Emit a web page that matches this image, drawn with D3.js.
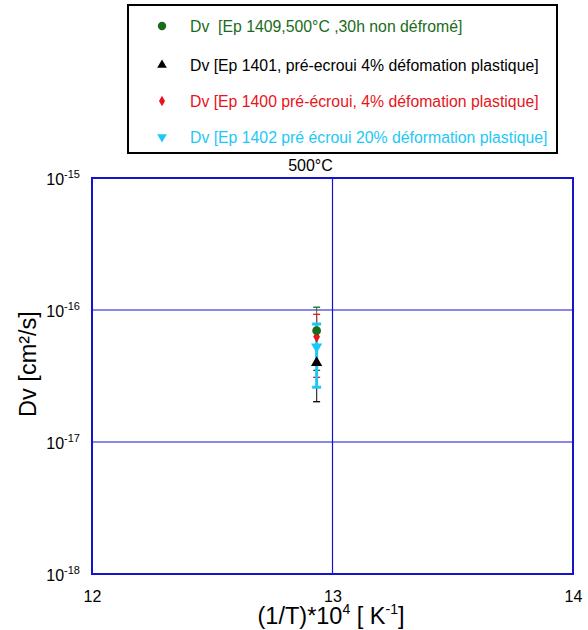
<!DOCTYPE html>
<html><head><meta charset="utf-8">
<script src="https://cdn.jsdelivr.net/npm/d3@7"></script>
<style>body{margin:0;background:#fff}svg{font-family:Arial,"Liberation Sans",sans-serif}</style>
</head><body><svg id="c" width="588" height="630"></svg>
<script>
const seriesNames = ["Dv  [Ep 1409,500°C ,30h non défromé]","Dv [Ep 1401, pré-ecroui 4% défomation plastique]","Dv [Ep 1400 pré-écroui, 4% défomation plastique]","Dv [Ep 1402 pré écroui 20% déformation plastique]"];
const seriesColors = ["#1a6b1a","#000000","#e8141a","#1ec8f5"];
const seriesSymbols = ["circle","triangle","diamond","triangleDown"];
const xValues = [12.934, 12.934, 12.934, 12.934];
const dvValues = [6.97e-17, 3.99e-17, 6.28e-17, 5.27e-17];
const errLow = [3.49e-17, 2.02e-17, 3.09e-17, 2.6e-17];
const errHigh = [1.05e-16, 7.83e-17, 9.28e-17, 7.83e-17];
const xTicks = [12, 13, 14];
const yTicks = [1e-18, 1e-17, 1e-16, 1e-15];

const svg = d3.select("#c");
const L=92,R=573,T=178,B=574;
const x = d3.scaleLinear().domain([12,14]).range([L,R]);
const y = d3.scaleLog().domain([1e-18,1e-15]).range([B,T]);
const blue="#1414cc";

// grid
svg.append("g").selectAll("line").data(xTicks.slice(1,-1)).join("line")
 .attr("x1",d=>x(d)).attr("x2",d=>x(d)).attr("y1",T).attr("y2",B).attr("stroke",blue).attr("stroke-width",1.2);
svg.append("g").selectAll("line").data(yTicks.slice(1,-1)).join("line")
 .attr("x1",L).attr("x2",R).attr("y1",d=>y(d)).attr("y2",d=>y(d)).attr("stroke",blue).attr("stroke-width",1.2);
svg.append("rect").attr("x",L).attr("y",T).attr("width",R-L).attr("height",B-T).attr("fill","none").attr("stroke",blue).attr("stroke-width",2);

// axes
const xa = svg.append("g").attr("transform",`translate(0,${B})`).call(d3.axisBottom(x).tickValues(xTicks).tickSize(0).tickFormat(""));
xa.select(".domain").remove();
xa.selectAll(".tick").append("text").attr("y",28).attr("text-anchor","middle").attr("fill","#000").attr("font-size",16).text(d=>d3.format("d")(d));

const ya = svg.append("g").attr("transform",`translate(${L},0)`).call(d3.axisLeft(y).tickValues(yTicks).tickSize(0).tickFormat(""));
ya.select(".domain").remove();
ya.selectAll(".tick").each(function(d){
  const e = Math.round(Math.log10(d));
  const t = d3.select(this).append("text").attr("x",-12).attr("y",6).attr("text-anchor","end").attr("fill","#000").attr("font-size",16);
  t.append("tspan").text("10");
  t.append("tspan").attr("dy",-7).attr("font-size",11).text("-"+Math.abs(e));
});

// labels
svg.append("text").attr("x",310.5).attr("y",171).attr("text-anchor","middle").attr("font-size",16).text("500°C");
svg.append("text").attr("transform","translate(36,364) rotate(-90)").attr("text-anchor","middle").attr("font-size",23.5).text("Dv [cm²/s]");
const xl = svg.append("text").attr("x",331).attr("y",624).attr("text-anchor","middle").attr("font-size",23.5);
xl.append("tspan").text("(1/T)*10");
xl.append("tspan").attr("dy",-10).attr("font-size",14).text("4");
xl.append("tspan").attr("dy",10).text(" [ K");
xl.append("tspan").attr("dy",-10).attr("font-size",14).text("-1");
xl.append("tspan").attr("dy",10).text("]");

// symbols
const symMap = {circle:d3.symbolCircle, triangle:d3.symbolTriangle, diamond:d3.symbolDiamond, triangleDown:d3.symbolTriangle};
function sym(g, k, cx, cy, color, size){
  g.append("path").attr("d",d3.symbol().type(symMap[k]).size(size)())
   .attr("transform",`translate(${cx},${cy})${k==="triangleDown"?" rotate(180)":""}`).attr("fill",color);
}

// error bars & points
const order=[1,0,2,3];
const pg = svg.append("g");
order.forEach(i=>{
  const cx=x(xValues[i]);
  const w = i===3?3:1.3, cw = i===3?4.5:3.5, ct = i===3?3:1.3;
  pg.append("line").attr("x1",cx).attr("x2",cx).attr("y1",y(errHigh[i])).attr("y2",y(errLow[i])).attr("stroke",seriesColors[i]).attr("stroke-width",w).attr("opacity",i===3?1:0.75);
  [errHigh[i],errLow[i]].forEach(v=>pg.append("line").attr("x1",cx-cw).attr("x2",cx+cw).attr("y1",y(v)).attr("y2",y(v)).attr("stroke",seriesColors[i]).attr("stroke-width",ct));
});
[3,1,2,0].forEach(i=>{
  sym(pg, seriesSymbols[i], x(xValues[i]), y(dvValues[i]), seriesColors[i], i===0?60:(i===2?40:55));
});

// legend
const lg = svg.append("g");
lg.append("rect").attr("x",128).attr("y",5).attr("width",429).attr("height",148).attr("fill","#fff").attr("stroke","#000").attr("stroke-width",2);
const ly=[26,65,101,137];
seriesNames.forEach((n,i)=>{
  sym(lg, seriesSymbols[i], 162, ly[i], seriesColors[i], i===0?55:(i===2?32:40));
  lg.append("text").attr("x",190).attr("y",ly[i]+5.5).attr("font-size",15.8).attr("fill",seriesColors[i]).attr("xml:space","preserve").style("white-space","pre").text(n);
});
</script></body></html>
